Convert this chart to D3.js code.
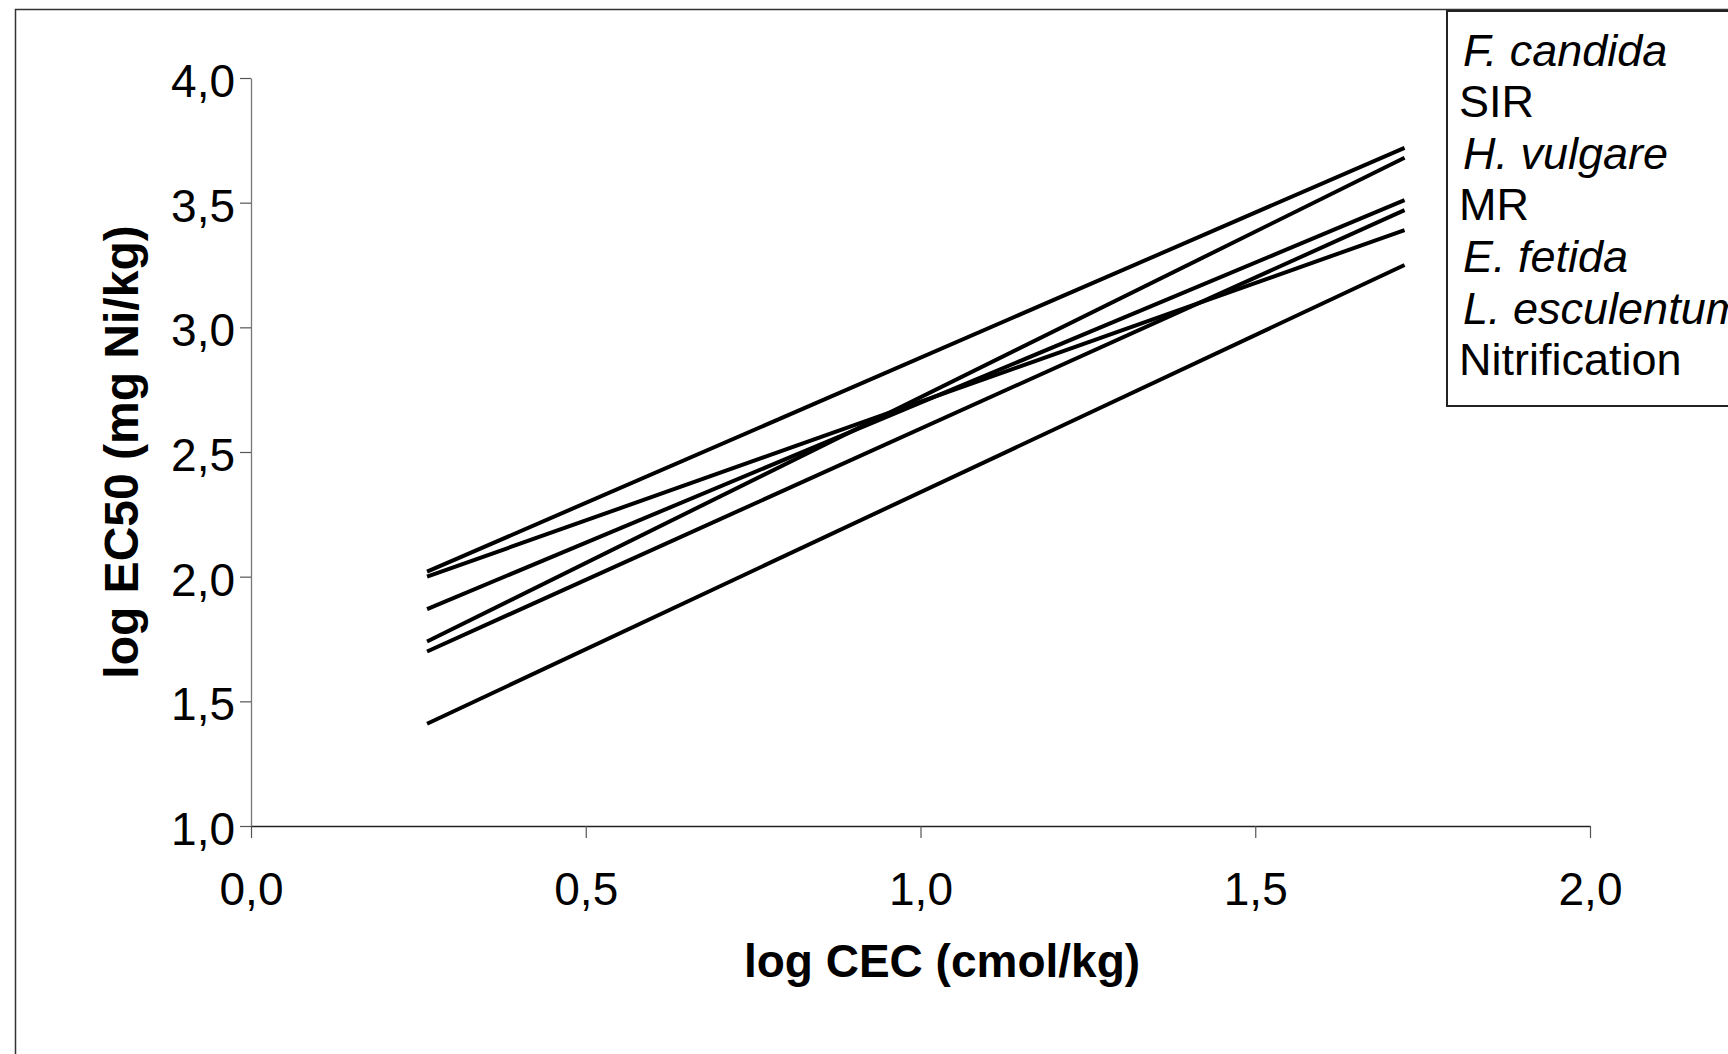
<!DOCTYPE html>
<html>
<head>
<meta charset="utf-8">
<script src="https://cdn.jsdelivr.net/npm/d3@7/dist/d3.min.js"></script>
<style>
  html, body { margin: 0; padding: 0; background: #fff; }
  svg { display: block; }
  text { font-family: "Liberation Sans", Arial, sans-serif; fill: #000; }
</style>
</head>
<body>
<svg id="chart" width="1728" height="1054"></svg>
<script>
// ---- data ----
const xStartEnd = [0.263, 1.723];            // log CEC range of regression lines
const lineStarts = [2.02, 2.00, 1.87, 1.74, 1.70, 1.41];
const lineEnds   = [3.72, 3.39, 3.51, 3.68, 3.47, 3.25];
const legendLabels = ["F. candida", "SIR", "H. vulgare", "MR", "E. fetida", "L. esculentum", "Nitrification"];
const legendItalic = [true, false, true, false, true, true, false];
const xTicks = [0, 0.5, 1.0, 1.5, 2.0];
const yTicks = [1.0, 1.5, 2.0, 2.5, 3.0, 3.5, 4.0];
const xTitle = "log CEC (cmol/kg)";
const yTitle = "log EC50 (mg Ni/kg)";

// ---- setup ----
const svg = d3.select("#chart");
const x = d3.scaleLinear().domain([0, 2]).range([251, 1590]);
const y = d3.scaleLinear().domain([1, 4]).range([826, 78]);
const locale = d3.formatLocale({decimal: ",", thousands: ".", grouping: [3], currency: ["", ""]});
const fmt = locale.format(".1f");

svg.append("rect").attr("width", 1728).attr("height", 1054).attr("fill", "#fff");
// outer frame
svg.append("rect").attr("x", 15.5).attr("y", 9.5).attr("width", 1800).attr("height", 1200)
  .attr("fill", "none").attr("stroke", "#333").attr("stroke-width", 1.5);

// y axis
const gy = svg.append("g").attr("transform", `translate(${x(0)},0)`)
  .call(d3.axisLeft(y).tickValues(yTicks).tickFormat(fmt).tickSize(11).tickPadding(5).tickSizeOuter(0));
gy.select(".domain").attr("stroke", "#777").attr("stroke-width", 1.3);
gy.selectAll(".tick line").attr("stroke", "#555").attr("stroke-width", 1.2);
gy.selectAll(".tick text").attr("font-size", 46).attr("font-family", "Liberation Sans, Arial, sans-serif")
  .attr("dy", "0.4em").attr("fill", "#000");

// x axis
const gx = svg.append("g").attr("transform", `translate(0,${y(1)})`)
  .call(d3.axisBottom(x).tickValues(xTicks).tickFormat(fmt).tickSize(12).tickPadding(62).tickSizeOuter(0));
gx.select(".domain").attr("stroke", "#222").attr("stroke-width", 1.5);
gx.selectAll(".tick line").attr("stroke", "#555").attr("stroke-width", 1.2);
gx.selectAll(".tick text").attr("font-size", 46).attr("font-family", "Liberation Sans, Arial, sans-serif")
  .attr("dy", "0.1em").attr("fill", "#000");

// axis titles
svg.append("text").attr("x", 942).attr("y", 977).attr("text-anchor", "middle")
  .attr("font-size", 46).attr("font-weight", "bold").text(xTitle);
svg.append("text").attr("transform", `translate(138,452) rotate(-90)`).attr("text-anchor", "middle")
  .attr("font-size", 48).attr("font-weight", "bold").text(yTitle);

// lines
const line = d3.line().x(d => x(d[0])).y(d => y(d[1]));
const series = lineStarts.map((s, i) => [[xStartEnd[0], s], [xStartEnd[1], lineEnds[i]]]);
svg.append("g").selectAll("path").data(series).join("path")
  .attr("d", line).attr("fill", "none").attr("stroke", "#000").attr("stroke-width", 4);

// legend
svg.append("rect").attr("x", 1447).attr("y", 11).attr("width", 400).attr("height", 395)
  .attr("fill", "#fff").attr("stroke", "#222").attr("stroke-width", 2);
svg.append("g").selectAll("text").data(legendLabels).join("text")
  .attr("x", (d, i) => legendItalic[i] ? 1463 : 1459).attr("y", (d, i) => 65.5 + i * 51.6)
  .attr("font-size", 45).attr("font-style", (d, i) => legendItalic[i] ? "italic" : "normal")
  .text(d => d);
</script>
</body>
</html>
